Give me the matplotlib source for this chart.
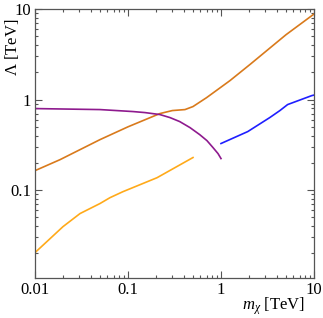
import numpy as np
import matplotlib
matplotlib.use("Agg")
import matplotlib.pyplot as plt
from matplotlib.ticker import LogLocator, NullFormatter, FixedLocator, FixedFormatter

plt.rcParams["font.family"] = ["Liberation Serif", "DejaVu Serif"]
plt.rcParams["mathtext.fontset"] = "custom"
plt.rcParams["mathtext.it"] = "Liberation Serif:italic"
plt.rcParams["mathtext.rm"] = "Liberation Serif"

# ===== data (TeV) =====
orange_x = [0.01, 0.0186, 0.05, 0.1, 0.22, 0.30, 0.41, 0.50, 0.7, 1.25, 2.05, 5.0, 10.0]
orange_y = [0.164, 0.217, 0.361, 0.50, 0.70, 0.756, 0.775, 0.837, 1.05, 1.62, 2.44, 5.2, 8.8]

purple_x = [0.01, 0.05, 0.113, 0.152, 0.22, 0.283, 0.36, 0.464, 0.59, 0.706, 0.82, 0.929, 1.0]
purple_y = [0.795, 0.775, 0.737, 0.718, 0.683, 0.632, 0.571, 0.49, 0.41, 0.352, 0.295, 0.253, 0.223]

blue_x = [1.0, 1.94, 3.35, 4.3, 5.2, 9.5, 10.0]
blue_y = [0.327, 0.443, 0.633, 0.756, 0.88, 1.107, 1.12]

yellow_x = [0.01, 0.02, 0.0305, 0.05, 0.064, 0.088, 0.205, 0.5]
yellow_y = [0.0204, 0.0395, 0.0551, 0.0711, 0.0825, 0.096, 0.137, 0.229]

xticks = [0.01, 0.1, 1, 10]
xtick_labels = ["0.01", "0.1", "1", "10"]
yticks = [0.1, 1, 10]
ytick_labels = ["0.1", "1", "10"]

# ===== figure =====
fig = plt.figure(figsize=(3.23, 3.18), dpi=100)
ax = fig.add_axes([35 / 323, 1 - 278 / 318, (314 - 35) / 323, (278 - 9) / 318])

ax.plot(orange_x, orange_y, color="#D97A1C", lw=1.2)
ax.plot(purple_x, purple_y, color="#8E1A8E", lw=1.2)
ax.plot(blue_x, blue_y, color="#1F1FFF", lw=1.2)
ax.plot(yellow_x, yellow_y, color="#FFAA1A", lw=1.2)

ax.set_xscale("log")
ax.set_yscale("log")
ax.set_xlim(0.01, 10)
ax.set_ylim(0.0107, 10)

ax.xaxis.set_major_locator(FixedLocator(xticks))
ax.xaxis.set_major_formatter(FixedFormatter(xtick_labels))
ax.yaxis.set_major_locator(FixedLocator(yticks))
ax.yaxis.set_major_formatter(FixedFormatter(ytick_labels))
ax.xaxis.set_minor_locator(LogLocator(base=10, subs=np.arange(2, 10)))
ax.yaxis.set_minor_locator(LogLocator(base=10, subs=np.arange(2, 10)))
ax.xaxis.set_minor_formatter(NullFormatter())
ax.yaxis.set_minor_formatter(NullFormatter())

frame_col = "#555555"
for s in ax.spines.values():
    s.set_color(frame_col)
    s.set_linewidth(0.9)
ax.tick_params(which="both", direction="in", top=True, right=True,
               color=frame_col, width=0.8, labelsize=12, pad=3)
ax.tick_params(which="major", length=5)
ax.tick_params(which="minor", length=2.5)

fig.text(12 / 323, 1 - 18 / 318, r"$\Lambda$ [TeV]", rotation=90,
         ha="center", va="top", fontsize=12)
fig.text(305 / 323, 1 - 306 / 318, r"$m_\chi$ [TeV]",
         ha="right", va="center", fontsize=12)

fig.savefig("out.png", dpi=100)
